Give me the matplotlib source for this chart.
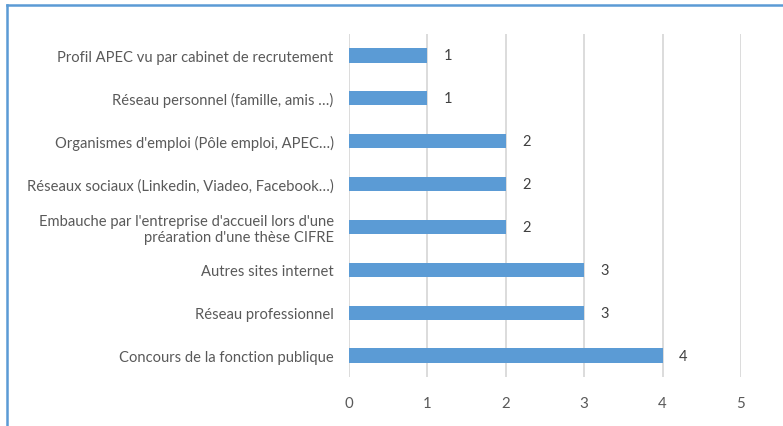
import matplotlib.pyplot as plt
from matplotlib.lines import Line2D

# categories listed bottom -> top
categories = [
    "Concours de la fonction publique",
    "Réseau professionnel",
    "Autres sites internet",
    "Embauche par l'entreprise d'accueil lors d'une\npréaration d'une thèse CIFRE",
    "Réseaux sociaux (Linkedin, Viadeo, Facebook…)",
    "Organismes d'emploi (Pôle emploi, APEC…)",
    "Réseau personnel (famille, amis …)",
    "Profil APEC vu par cabinet de recrutement",
]
values = [4, 3, 3, 2, 2, 2, 1, 1]
xticks = [0, 1, 2, 3, 4, 5]

plt.rcParams['font.family'] = ['Lato', 'DejaVu Sans']
text_color = "#595959"
bar_color = "#5B9BD5"

fig = plt.figure(figsize=(7.83, 4.27), dpi=100)
ax = fig.add_axes([349 / 783, 1 - 378 / 427, (741 - 349) / 783, (378 - 35) / 427])

y = list(range(len(categories)))
ax.barh(y, values, height=0.33, color=bar_color, zorder=3)

for yi, v in zip(y, values):
    ax.annotate(str(v), (v, yi), xytext=(12, 0), textcoords="offset points",
                va="center", ha="left", fontsize=10.5, color="#404040")

ax.set_xlim(0, 5)
ax.set_ylim(-0.5, len(categories) - 0.5)
ax.set_xticks(xticks)
ax.set_yticks(y)
ax.set_yticklabels(categories, fontsize=10.6, color=text_color, linespacing=1.15)
ax.tick_params(axis="y", length=0, pad=11)
ax.tick_params(axis="x", length=0, pad=14, labelsize=10.8, labelcolor=text_color)
ax.grid(axis="x", color="#D9D9D9", linewidth=1.3, zorder=0)
for s in ax.spines.values():
    s.set_visible(False)

# chart frame (only top and left visible in the crop)
fig.add_artist(Line2D([7 / 783, 7 / 783], [-0.1, 1 - 5.5 / 427], color="#5B9BD5", linewidth=1.8))
fig.add_artist(Line2D([7 / 783, 1.1], [1 - 5.5 / 427, 1 - 5.5 / 427], color="#5B9BD5", linewidth=1.8))

fig.savefig("out.png", dpi=100)
